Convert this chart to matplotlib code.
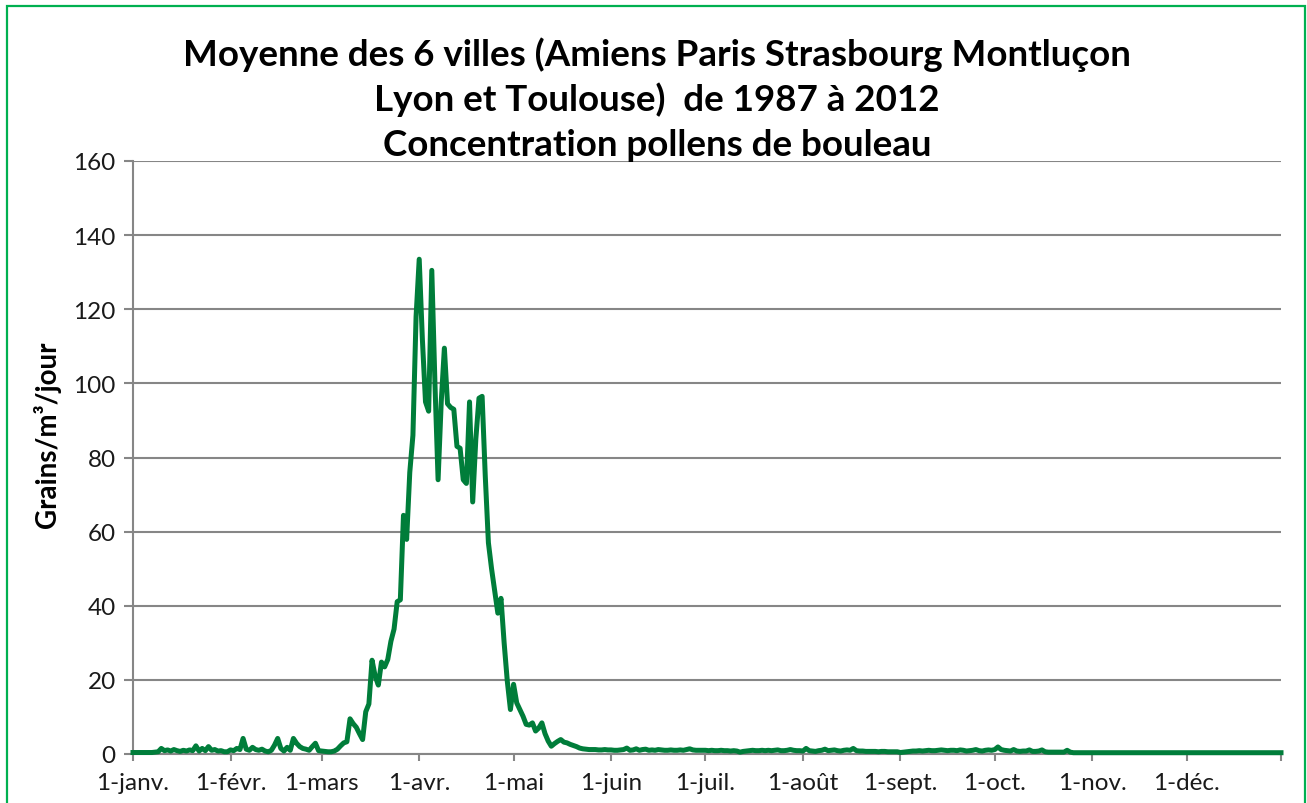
import matplotlib
matplotlib.use("Agg")
import matplotlib.pyplot as plt
import numpy as np
from matplotlib.patches import Rectangle

# Daily average birch pollen (grains/m3/day), one list per month (leap-year calendar)
janv = [0.4, 0.4, 0.4, 0.4, 0.4, 0.4, 0.4, 0.5, 0.6, 1.5, 0.9, 1.1, 0.8, 1.2, 0.9, 0.7,
        1.0, 0.8, 1.1, 0.9, 2.2, 0.8, 1.5, 0.9, 2.0, 1.0, 1.2, 0.8, 0.9, 0.6, 0.6]
fevr = [1.1, 0.9, 1.5, 1.2, 4.2, 1.3, 1.0, 1.8, 1.2, 1.0, 1.3, 0.8, 0.6, 1.0, 2.4, 4.2,
        1.5, 0.8, 1.8, 1.0, 4.2, 2.9, 2.0, 1.5, 1.3, 1.0, 2.0, 2.9, 0.9]
mars = [0.8, 0.7, 0.6, 0.6, 0.8, 1.3, 2.2, 3.0, 3.3, 9.5, 8.2, 7.2, 5.5, 3.9, 11.4, 13.5,
        25.3, 21.0, 18.6, 24.8, 23.5, 25.5, 30.4, 33.7, 41.1, 41.6, 64.4, 57.9, 76.0, 86.0,
        118.0]
avril = [133.5, 112.0, 95.0, 92.5, 130.5, 100.0, 74.0, 95.0, 109.5, 94.5, 93.5, 93.0,
         83.0, 82.5, 74.0, 73.0, 95.0, 68.0, 85.0, 96.0, 96.5, 75.0, 57.0, 50.0, 44.0,
         38.0, 42.0, 30.0, 19.7, 12.0]
mai = [18.8, 13.8, 12.0, 10.2, 8.0, 7.8, 8.4, 6.2, 7.0, 8.4, 5.5, 3.5, 2.1, 2.8, 3.4, 3.9,
       3.2, 3.0, 2.6, 2.3, 2.0, 1.6, 1.4, 1.3, 1.2, 1.2, 1.2, 1.1, 1.1, 1.2, 1.1]
juin = [1.1, 1.0, 1.0, 1.1, 1.2, 1.6, 1.0, 1.1, 1.4, 1.0, 1.2, 1.3, 1.0, 1.1, 1.0, 1.2,
        1.1, 1.0, 1.0, 1.1, 1.0, 1.0, 1.1, 1.0, 1.2, 1.4, 1.1, 1.0, 1.0, 1.0]
juil = [1.0, 0.9, 1.0, 0.9, 0.9, 1.0, 0.9, 0.9, 0.8, 0.9, 0.8, 0.5, 0.7, 0.8, 0.9, 1.0,
        0.9, 0.9, 1.0, 0.9, 1.0, 0.9, 1.0, 1.1, 0.9, 0.9, 1.0, 1.2, 1.0, 0.9, 0.9]
aout = [0.8, 1.5, 0.9, 0.8, 0.7, 0.9, 1.0, 1.3, 0.9, 1.0, 1.1, 0.9, 0.8, 1.0, 1.1, 1.0,
        1.5, 0.9, 0.8, 0.8, 0.7, 0.7, 0.7, 0.7, 0.6, 0.7, 0.7, 0.6, 0.6, 0.6, 0.6]
sept = [0.4, 0.5, 0.6, 0.7, 0.8, 0.8, 0.9, 0.8, 0.9, 1.0, 0.9, 0.9, 1.0, 1.1, 1.0, 0.9,
        1.0, 1.0, 0.9, 1.1, 1.0, 0.8, 0.9, 1.0, 1.2, 0.9, 0.8, 1.0, 1.1, 1.0]
octo = [1.2, 1.9, 1.2, 1.0, 0.9, 0.8, 1.2, 0.8, 0.7, 0.8, 0.8, 1.1, 0.7, 0.7, 0.8, 1.1,
        0.6, 0.5, 0.5, 0.5, 0.5, 0.5, 0.5, 1.0, 0.5, 0.35, 0.35, 0.35, 0.35, 0.35, 0.35]
nov = [0.35] * 30
dec = [0.35] * 31

months = [janv, fevr, mars, avril, mai, juin, juil, aout, sept, octo, nov, dec]
month_labels = ["1-janv.", "1-févr.", "1-mars", "1-avr.", "1-mai", "1-juin",
                "1-juil.", "1-août", "1-sept.", "1-oct.", "1-nov.", "1-déc."]

title_lines = ["Moyenne des 6 villes (Amiens Paris Strasbourg Montluçon",
               "Lyon et Toulouse)  de 1987 à 2012",
               "Concentration pollens de bouleau"]

values = np.concatenate([np.asarray(m, dtype=float) for m in months])
days = np.arange(len(values))
month_starts = np.cumsum([0] + [len(m) for m in months])  # 13 edges

plt.rcParams["font.family"] = ["Lato", "DejaVu Sans"]

W, H, DPI = 1307, 804, 100
fig = plt.figure(figsize=(W / DPI, H / DPI), dpi=DPI)
ax = fig.add_axes([133 / W, 1 - 755 / H, (1281 - 133) / W, (755 - 162) / H])

grid_c = "#868686"
ax.plot(days, values, color="#007D3A", lw=3.6, solid_joinstyle="round", zorder=3,
        clip_on=False)

ax.set_xlim(0, len(values) - 1)
ax.set_ylim(0, 160)
ax.set_yticks(np.arange(0, 161, 20))
ax.yaxis.grid(True, color=grid_c, lw=1.5)
ax.set_axisbelow(True)

ax.set_xticks(month_starts[:-1])
ax.set_xticklabels(month_labels)
ax.set_xticks([len(values) - 1], minor=True)

for s in ["top", "right"]:
    ax.spines[s].set_visible(False)
for s in ["left", "bottom"]:
    ax.spines[s].set_color(grid_c)
    ax.spines[s].set_linewidth(1.5)

ax.tick_params(axis="y", direction="out", length=6.5, width=1.5, color=grid_c,
               labelsize=17.5, pad=6, labelcolor="#1a1a1a")
ax.tick_params(axis="x", which="both", direction="out", length=5, width=1.5,
               color=grid_c, labelsize=17.5, pad=8, labelcolor="#1a1a1a")

fig.text(47 / W, 1 - 435 / H, "Grains/m³/jour", rotation=90, ha="center", va="center",
         fontsize=20, fontweight="bold", color="black")

for i, line in enumerate(title_lines):
    fig.text(657 / W, 1 - (55 + 45 * i) / H, line, ha="center", va="center",
             fontsize=26.5, fontweight="bold", color="black")

# green frame around the chart (bottom edge is cut off in the reference)
fig.patches.append(Rectangle((7 / W, -0.05), (1305 - 7) / W, 1.05 - 7 / H,
                             transform=fig.transFigure, fill=False,
                             edgecolor="#00B050", lw=1.6))

fig.savefig("out.png", dpi=DPI)
